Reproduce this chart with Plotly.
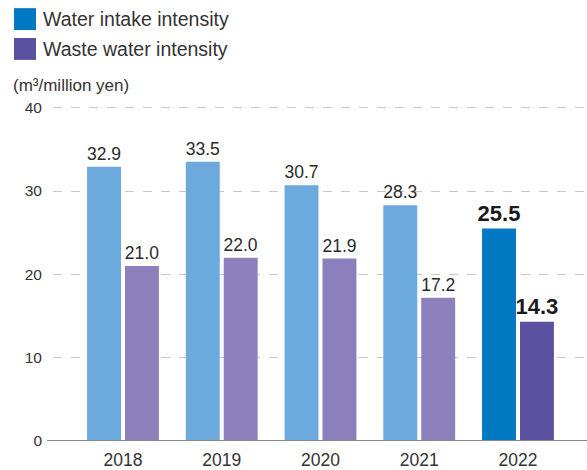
import plotly.graph_objects as go

# Fiscal years and intensity values (m3 per million yen)
years = ["2018", "2019", "2020", "2021", "2022"]
intake = [32.9, 33.5, 30.7, 28.3, 25.5]
waste = [21.0, 22.0, 21.9, 17.2, 14.3]
y_ticks = [0, 10, 20, 30, 40]

# Colours: past years lighter, latest year emphasised
intake_colors = ["#6CA9DC"] * 4 + ["#0079C2"]
waste_colors = ["#8B80BC"] * 4 + ["#5B51A0"]
legend_intake = "#0079C2"
legend_waste = "#5B51A0"

W, H = 587, 470
Y_MAX = 40.2                    # a little headroom so the 40 gridline is drawn
PX_PER_UNIT = 335 / 40          # 0 at y=443, 40 at y=108
ML, MR, MB = 53, 0, 27
MT = (H - MB) - Y_MAX * PX_PER_UNIT
PW, PH = W - ML - MR, H - MT - MB

def px_x(px):
    return (px - ML) / PW

def px_y(py):
    return (H - MB - py) / PH

base_font = "Liberation Sans, Arial, sans-serif"

def label_fonts(n):
    sizes = [17.5] * (n - 1) + [22]
    weights = ["normal"] * (n - 1) + ["bold"]
    colors = ["#2a2a2a"] * (n - 1) + ["#1a1a1a"]
    return dict(size=sizes, family=base_font, weight=weights, color=colors)

fig = go.Figure()
fig.add_trace(go.Bar(
    x=years, y=intake, marker=dict(color=intake_colors, line=dict(width=0)),
    text=[f"{v:.1f}" for v in intake], textposition="outside",
    textfont=label_fonts(len(years)), cliponaxis=False, constraintext="none",
    name="Water intake intensity", showlegend=False,
))
fig.add_trace(go.Bar(
    x=years, y=waste, marker=dict(color=waste_colors, line=dict(width=0)),
    text=[f"{v:.1f}" for v in waste], textposition="outside",
    textfont=label_fonts(len(years)), cliponaxis=False, constraintext="none",
    name="Waste water intensity", showlegend=False,
))

shapes = [
    # baseline
    dict(type="line", xref="paper", yref="y", x0=px_x(47), x1=1, y0=0, y1=0,
         line=dict(color="#8a8a8a", width=2), layer="above"),
    # legend swatches
    dict(type="rect", xref="paper", yref="paper", x0=px_x(14), x1=px_x(36),
         y0=px_y(30), y1=px_y(8), fillcolor=legend_intake, line=dict(width=0)),
    dict(type="rect", xref="paper", yref="paper", x0=px_x(14), x1=px_x(36),
         y0=px_y(60), y1=px_y(38), fillcolor=legend_waste, line=dict(width=0)),
]

annotations = [
    dict(text="Water intake intensity", xref="paper", yref="paper",
         x=px_x(41), y=px_y(19), xanchor="left", yanchor="middle", showarrow=False,
         font=dict(size=19.5, family=base_font, color="#333333")),
    dict(text="Waste water intensity", xref="paper", yref="paper",
         x=px_x(41), y=px_y(49), xanchor="left", yanchor="middle", showarrow=False,
         font=dict(size=19.5, family=base_font, color="#333333")),
    dict(text="(m³/million yen)", xref="paper", yref="paper",
         x=px_x(11), y=px_y(86), xanchor="left", yanchor="middle", showarrow=False,
         font=dict(size=17, family=base_font, color="#333333")),
]

fig.update_layout(
    width=W, height=H,
    margin=dict(l=ML, r=MR, t=MT, b=MB, pad=0),
    paper_bgcolor="white", plot_bgcolor="white",
    barmode="group", bargap=0.232, bargroupgap=0.105,
    font=dict(family=base_font, color="#333333"),
    shapes=shapes, annotations=annotations,
    xaxis=dict(
        range=[-0.709, 4.699], showgrid=False, zeroline=False, showline=False,
        ticks="", tickfont=dict(size=17.5, color="#333333"), ticklabelstandoff=6,
    ),
    yaxis=dict(
        range=[0, Y_MAX], tickvals=y_ticks, showgrid=True, gridcolor="#c8c8c8",
        griddash="dash", gridwidth=1, zeroline=False, showline=False, ticks="",
        tickfont=dict(size=15.5, color="#333333"), ticklabelstandoff=10,
    ),
)

fig.write_html("out.html")
